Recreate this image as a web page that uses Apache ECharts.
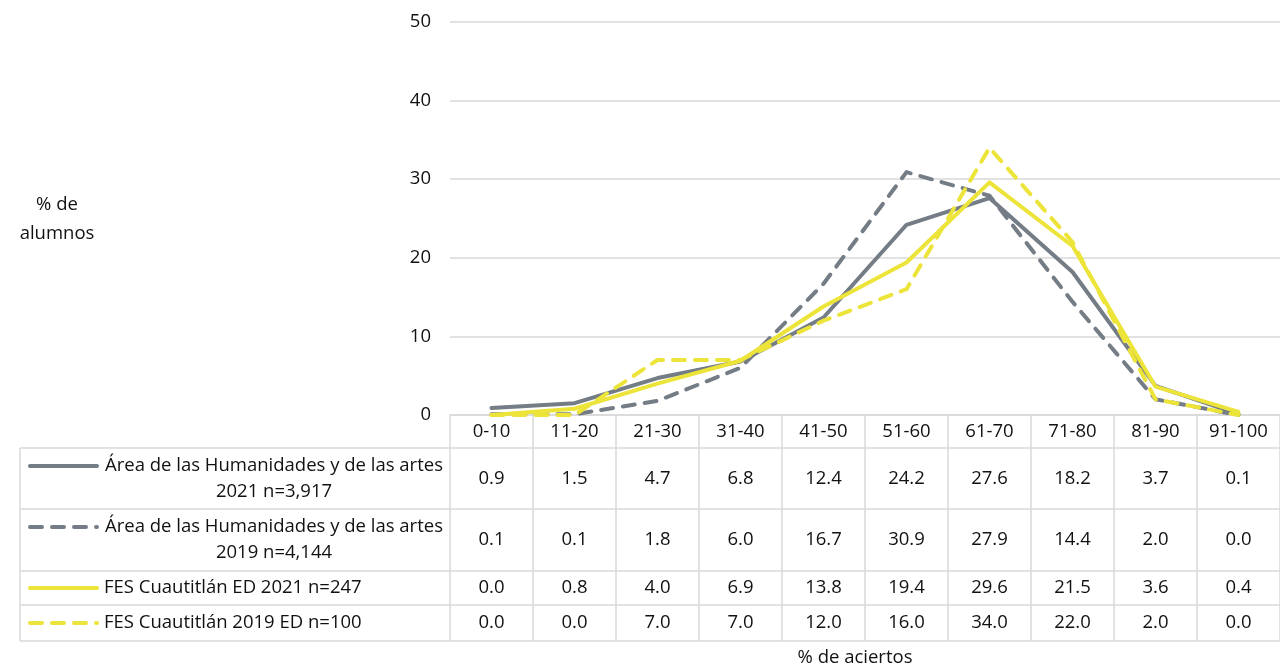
<!DOCTYPE html>
<html><head><meta charset="utf-8">
<script src="https://cdn.jsdelivr.net/npm/echarts@6/dist/echarts.min.js"></script>
<style>html,body{margin:0;padding:0;background:#fff}#c{width:1280px;height:667px}</style>
</head><body><div id="c"></div>
<script>
// ---- data ----
const categories = ['0-10','11-20','21-30','31-40','41-50','51-60','61-70','71-80','81-90','91-100'];
const seriesNames = [
  'Área de las Humanidades y de las artes 2021 n=3,917',
  'Área de las Humanidades y de las artes 2019 n=4,144',
  'FES Cuautitlán ED 2021 n=247',
  'FES Cuautitlán 2019 ED n=100'
];
const humanidades2021 = [0.9,1.5,4.7,6.8,12.4,24.2,27.6,18.2,3.7,0.1];
const humanidades2019 = [0.1,0.1,1.8,6.0,16.7,30.9,27.9,14.4,2.0,0.0];
const fes2021 = [0.0,0.8,4.0,6.9,13.8,19.4,29.6,21.5,3.6,0.4];
const fes2019 = [0.0,0.0,7.0,7.0,12.0,16.0,34.0,22.0,2.0,0.0];
const yTicks = [0,10,20,30,40,50];
const yAxisTitle = '% de\nalumnos';
const xAxisTitle = '% de aciertos';

// ---- styles ----
const FONT = 'Open Sans';
const FS = 18.5;
const TXT = '#111';
const GRIDC = '#d9d9d9';
const GRAY = '#747c85';
const YELLOW = '#ede43a';
const DASH = [12, 10];
const seriesData = [humanidades2021, humanidades2019, fes2021, fes2019];
const seriesStyle = [
  {color: GRAY, dash: 'solid'},
  {color: GRAY, dash: DASH},
  {color: YELLOW, dash: 'solid'},
  {color: YELLOW, dash: DASH}
];

const chart = echarts.init(document.getElementById('c'));
chart.setOption({
  animation: false,
  backgroundColor: '#fff',
  grid: {left: 450, top: 22, width: 840, height: 393, containLabel: false},
  xAxis: {
    type: 'category', data: categories, boundaryGap: true,
    axisLine: {show: true, lineStyle: {color: GRIDC, width: 1.5}},
    axisTick: {show: true, alignWithLabel: false, length: 226, lineStyle: {color: GRIDC, width: 1.5}},
    axisLabel: {fontFamily: FONT, fontSize: FS, color: TXT, margin: 7, interval: 0}
  },
  yAxis: {
    type: 'value', min: yTicks[0], max: yTicks[yTicks.length-1], interval: 10,
    axisLine: {show: false}, axisTick: {show: false},
    axisLabel: {fontFamily: FONT, fontSize: FS, color: TXT, margin: 19},
    splitLine: {lineStyle: {color: GRIDC, width: 1.5}}
  },
  series: seriesData.map((d, i) => ({
    type: 'line', name: seriesNames[i], data: d,
    symbol: 'none', clip: false, smooth: false,
    lineStyle: {color: seriesStyle[i].color, width: 4, type: seriesStyle[i].dash, cap: 'round', join: 'round'},
    itemStyle: {color: seriesStyle[i].color}
  }))
});

// ---- data table below the axis ----
const rowBounds = [448, 509, 571, 605, 641];
const tableLeft = 20, tableRight = 1290;
const g = [];
rowBounds.forEach(y => g.push({type: 'line', shape: {x1: tableLeft, y1: y, x2: tableRight, y2: y}, style: {stroke: GRIDC, lineWidth: 1.5}, silent: true}));
g.push({type: 'line', shape: {x1: tableLeft, y1: rowBounds[0], x2: tableLeft, y2: rowBounds[rowBounds.length-1]}, style: {stroke: GRIDC, lineWidth: 1.5}, silent: true});

seriesData.forEach((d, r) => {
  const top = rowBounds[r], bot = rowBounds[r+1];
  const mid = (top + bot) / 2;
  const wrapped = seriesNames[r].length > 40;
  const label = wrapped ? seriesNames[r].replace(/ (\d{4} n=)/, '\n$1') : seriesNames[r];
  const keyY = wrapped ? top + 18 : mid;
  // legend key
  const st = seriesStyle[r];
  g.push({type: 'line', shape: {x1: 30, y1: keyY, x2: 97, y2: keyY},
    style: {stroke: st.color, lineWidth: 4, lineCap: 'round', lineDash: st.dash === 'solid' ? null : DASH}, silent: true});
  // legend label
  g.push({type: 'text', x: wrapped ? 274 : 104, y: wrapped ? top + 31 : mid,
    style: {text: label, fontFamily: FONT, fontSize: FS, fill: TXT, align: wrapped ? 'center' : 'left', verticalAlign: 'middle', lineHeight: 26}, silent: true});
  // values
  d.forEach((v, c) => {
    const x = chart.convertToPixel({xAxisIndex: 0}, categories[c]);
    g.push({type: 'text', x: x, y: mid,
      style: {text: v.toFixed(1), fontFamily: FONT, fontSize: FS, fill: TXT, align: 'center', verticalAlign: 'middle'}, silent: true});
  });
});

// axis titles
g.push({type: 'text', x: 57, y: 219, style: {text: yAxisTitle, fontFamily: FONT, fontSize: FS, fill: TXT, align: 'center', verticalAlign: 'middle', lineHeight: 29}, silent: true});
g.push({type: 'text', x: 855, y: 658, style: {text: xAxisTitle, fontFamily: FONT, fontSize: FS, fill: TXT, align: 'center', verticalAlign: 'middle'}, silent: true});

chart.setOption({graphic: g});
</script>
</body></html>
